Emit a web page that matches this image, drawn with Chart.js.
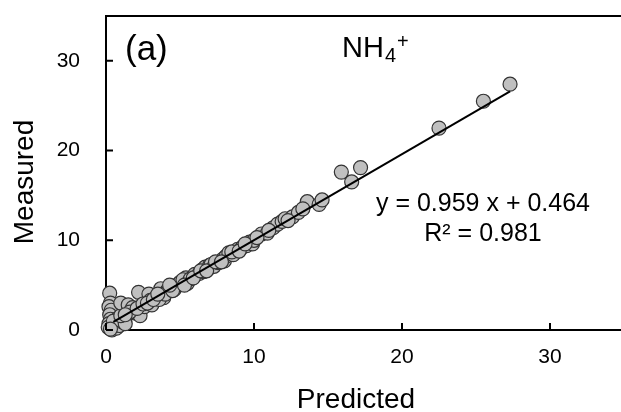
<!DOCTYPE html>
<html>
<head>
<meta charset="utf-8">
<script src="https://cdn.jsdelivr.net/npm/chart.js@4"></script>
<style>
  html, body { margin: 0; padding: 0; background: #fff; overflow: hidden; }
  #wrap { width: 632px; height: 412px; }
</style>
</head>
<body>
<div id="wrap"><canvas id="myChart" width="632" height="412"></canvas></div>
<script>
// values
var predicted = [
    0.25, 0.3, 0.2, 0.35, 0.25, 0.3, 0.2, 0.15, 0.4, 0.7, 0.6, 0.9, 1.1, 0.8, 0.5, 1.3, 0.3, 1.0,
    1.0, 1.5, 1.8, 1.9, 2.3, 2.2, 2.9, 2.6, 3.1, 3.7, 4.1, 4.6, 5.4, 3.9,
    1.6, 2.1, 2.5, 3.0, 3.4, 3.6, 4.2, 4.4, 4.8, 5.0, 5.2, 5.5, 5.7, 6.0, 6.3, 6.5, 6.6, 6.7, 6.9,
    7.0, 7.1, 7.3, 7.6, 7.9, 8.0, 8.1, 8.3, 8.6, 8.9, 9.2, 9.5, 9.7, 9.9, 10.0, 10.5, 10.9, 11.3,
    11.6, 11.9, 12.1, 12.6, 13.0, 13.6, 14.4, 14.6, 15.9, 16.6, 17.2, 22.5, 25.5, 27.3,
    1.3, 2.8, 3.2, 4.0, 4.5, 5.3, 5.9, 6.4, 6.8, 7.4, 7.8, 8.5, 9.0, 9.4, 10.2, 11.0, 12.3, 13.3,
    3.5, 4.3
];
var measured = [
    4.1, 3.0, 2.6, 2.2, 1.7, 1.2, 0.7, 0.3, 0.0, 0.2, 0.6, 0.5, 0.9, 1.3, 1.0, 0.7, 0.1, 1.6,
    3.0, 2.8, 2.5, 1.9, 1.6, 4.2, 4.0, 2.6, 2.8, 4.6, 4.3, 4.5, 5.8, 3.6,
    2.0, 2.4, 2.9, 3.3, 3.7, 3.4, 4.5, 4.8, 5.0, 5.3, 5.6, 5.2, 5.7, 6.2, 6.3, 6.7, 6.5, 7.0, 6.8,
    7.2, 7.3, 7.1, 7.5, 7.9, 7.7, 8.2, 8.6, 8.4, 9.0, 9.2, 9.4, 9.8, 9.6, 10.0, 10.7, 10.8, 11.4,
    11.8, 12.1, 12.4, 12.6, 13.1, 14.3, 14.0, 14.5, 17.6, 16.5, 18.1, 22.5, 25.5, 27.4,
    1.7, 3.0, 3.4, 4.0, 4.4, 5.0, 5.8, 6.6, 6.6, 7.6, 7.6, 8.7, 8.8, 9.6, 10.3, 11.1, 12.2, 13.5,
    4.0, 5.0
];

// fitted line, y = 0.959 x + 0.464
var trendX = [0.5, 27.3];
var trendY = [0.9, 26.6];

var xTicks = [0, 10, 20, 30];
var yTicks = [0, 10, 20, 30];

var FONT = "'Liberation Sans', Arial, sans-serif";

function pairs(xs, ys) {
    return xs.map(function (v, i) { return { x: v, y: ys[i] }; });
}

var framePlugin = {
    id: "frame",
    afterDraw: function (chart) {
        var ctx = chart.ctx;
        var a = chart.chartArea;
        var xs = chart.scales.x, ys = chart.scales.y;
        ctx.save();
        ctx.strokeStyle = "#000";
        ctx.lineWidth = 2;
        ctx.beginPath();
        ctx.moveTo(a.left - 1, a.top);
        ctx.lineTo(a.right, a.top);
        xs.ticks.forEach(function (t) {
            var px = xs.getPixelForValue(t.value);
            ctx.moveTo(px, a.bottom);
            ctx.lineTo(px, a.bottom - 7);
        });
        ys.ticks.forEach(function (t) {
            var py = ys.getPixelForValue(t.value);
            ctx.moveTo(a.left, py);
            ctx.lineTo(a.left + 7, py);
        });
        ctx.stroke();

        ctx.fillStyle = "#000";
        ctx.textBaseline = "alphabetic";

        // axis titles
        ctx.font = "28px " + FONT;
        ctx.textAlign = "center";
        ctx.fillText("Predicted", 356, 408);
        ctx.save();
        ctx.translate(33, 182);
        ctx.rotate(-Math.PI / 2);
        ctx.fillText("Measured", 0, 0);
        ctx.restore();

        // panel label
        ctx.textAlign = "left";
        ctx.font = "35px " + FONT;
        ctx.fillText("(a)", 125, 60);

        // NH4+
        ctx.font = "29px " + FONT;
        ctx.fillText("NH", 342, 57);
        var w = ctx.measureText("NH").width;
        ctx.font = "20px " + FONT;
        ctx.fillText("4", 342 + w + 1, 62);
        ctx.fillText("+", 342 + w + 13, 48);

        // equation
        ctx.textAlign = "center";
        ctx.font = "25px " + FONT;
        ctx.fillText("y = 0.959 x + 0.464", 483, 211);
        ctx.fillText("R\u00b2 = 0.981", 483, 241);
        ctx.restore();
    }
};

var ctx = document.getElementById("myChart").getContext("2d");
var myChart = new Chart(ctx, {
    type: "scatter",
    data: {
        datasets: [{
            type: "line",
            label: "Fit",
            data: pairs(trendX, trendY),
            borderColor: "#000",
            borderWidth: 2,
            pointRadius: 0,
            fill: false
        }, {
            label: "NH4+",
            data: pairs(predicted, measured),
            backgroundColor: "#c0c0c0",
            borderColor: "#333333",
            borderWidth: 1.2,
            pointRadius: 7,
            clip: false
        }]
    },
    options: {
        responsive: false,
        animation: false,
        devicePixelRatio: 1,
        layout: { autoPadding: false, padding: { left: 0, top: 16, right: 8, bottom: 0 } },
        plugins: {
            legend: { display: false },
            tooltip: { enabled: false }
        },
        scales: {
            x: {
                type: "linear",
                min: 0,
                max: 35,
                afterBuildTicks: function (s) { s.ticks = xTicks.map(function (v) { return { value: v }; }); },
                afterFit: function (s) { s.height = 82; s.paddingLeft = 0; s.paddingRight = 0; },
                grid: { display: false, drawTicks: false },
                border: { display: true, color: "#000", width: 2 },
                ticks: { color: "#000", padding: 15, font: { family: FONT, size: 21 } }
            },
            y: {
                type: "linear",
                min: 0,
                max: 35,
                afterBuildTicks: function (s) { s.ticks = yTicks.map(function (v) { return { value: v }; }); },
                afterFit: function (s) { s.width = 106; s.paddingTop = 0; s.paddingBottom = 0; },
                grid: { display: false, drawTicks: false },
                border: { display: true, color: "#000", width: 2 },
                ticks: { color: "#000", padding: 26, font: { family: FONT, size: 21 } }
            }
        }
    },
    plugins: [framePlugin]
});
</script>
</body>
</html>
